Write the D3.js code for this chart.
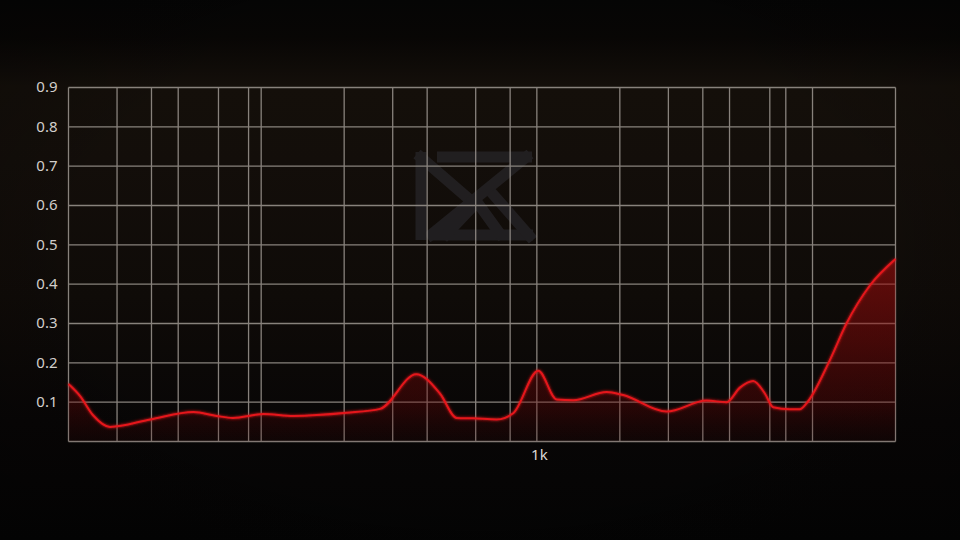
<!DOCTYPE html>
<html>
<head>
<meta charset="utf-8">
<script src="https://cdn.jsdelivr.net/npm/d3@7"></script>
<style>
  html, body { margin: 0; padding: 0; background: #050505; }
  svg { display: block; }
</style>
</head>
<body>
<svg id="chart" width="960" height="540"></svg>
<script>
// ---- data ----
const freqs  = [20, 22, 24.6, 28.3, 39.6, 56.8, 69, 79, 102, 131, 204, 270, 365, 445, 512, 588, 715, 821, 1012, 1180, 1356, 1792, 2057, 2956, 4130, 4878, 5452, 6092, 6718, 7198, 8276, 8996, 9510, 11560, 13280, 16120, 20000];
const values = [0.146, 0.116, 0.066, 0.037, 0.056, 0.075, 0.065, 0.060, 0.070, 0.065, 0.073, 0.083, 0.171, 0.122, 0.060, 0.059, 0.056, 0.072, 0.180, 0.107, 0.105, 0.126, 0.118, 0.076, 0.104, 0.100, 0.137, 0.154, 0.122, 0.087, 0.082, 0.082, 0.097, 0.207, 0.300, 0.396, 0.464];
const gridFreqs = [20, 30, 40, 50, 70, 90, 100, 200, 300, 400, 600, 800, 1000, 2000, 3000, 4000, 5000, 7000, 8000, 10000, 20000];
const xTickValues = [1000];
const xTickLabels = ["1k"];
const yTicks = [0, 0.1, 0.2, 0.3, 0.4, 0.5, 0.6, 0.7, 0.8, 0.9];

const svg = d3.select("#chart");
const W = 960, H = 540;
const m = { left: 68.5, right: 895.5, top: 87.5, bottom: 441.5 };

const x = d3.scaleLog().domain([20, 20000]).range([m.left, m.right]);
const y = d3.scaleLinear().domain([0, 0.9]).range([m.bottom, m.top]);

const defs = svg.append("defs");
const bg = defs.append("linearGradient").attr("id", "bg").attr("x1", 0).attr("y1", 0).attr("x2", 0).attr("y2", 1);
[[0, "#050505"], [0.07, "#080605"], [0.16, "#140f0a"], [0.3, "#130e0a"], [0.55, "#0f0b08"], [0.78, "#080606"], [1, "#040404"]]
  .forEach(([o, c]) => bg.append("stop").attr("offset", o).attr("stop-color", c));
svg.append("rect").attr("width", W).attr("height", H).attr("fill", "url(#bg)");

// side vignette
const vg = defs.append("radialGradient").attr("id", "vig").attr("cx", 0.5).attr("cy", 0.45).attr("r", 0.75);
vg.append("stop").attr("offset", 0.55).attr("stop-color", "#000").attr("stop-opacity", 0);
vg.append("stop").attr("offset", 1).attr("stop-color", "#000").attr("stop-opacity", 0.35);
svg.append("rect").attr("width", W).attr("height", H).attr("fill", "url(#vig)");

// faint watermark logo
const logo = svg.append("g").attr("transform", "translate(415,152)").attr("opacity", 0.45)
  .attr("fill", "none").attr("stroke", "#34343c").attr("stroke-width", 11);
const logoPaths = [
  "M6,0 L6,88", "M22,5 L117,5", "M2,2 L62,54", "M115,2 L12,86", "M14,83 L118,83",
  "M28,86 L62,50 L88,86", "M76,40 L118,88"
];
logo.selectAll("path").data(logoPaths).join("path").attr("d", d => d);

// grid
const gridColor = "#958f89";
const grid = svg.append("g").attr("stroke", gridColor).attr("stroke-width", 1.3).attr("opacity", 0.9);
grid.selectAll("line.h").data(yTicks).join("line").attr("class", "h")
  .attr("x1", m.left).attr("x2", m.right).attr("y1", d => y(d)).attr("y2", d => y(d));
grid.selectAll("line.v").data(gridFreqs).join("line").attr("class", "v")
  .attr("x1", d => x(d)).attr("x2", d => x(d)).attr("y1", m.top).attr("y2", m.bottom);

// area + line
const fillG = defs.append("linearGradient").attr("id", "fillG")
  .attr("gradientUnits", "userSpaceOnUse").attr("x1", 0).attr("y1", y(0.47)).attr("x2", 0).attr("y2", m.bottom);
[[0, "#a00c0c", 0.6], [0.45, "#8a0808", 0.45], [0.8, "#6a0505", 0.34], [1, "#400404", 0.15]]
  .forEach(([o, c, a]) => fillG.append("stop").attr("offset", o).attr("stop-color", c).attr("stop-opacity", a));

const pts = freqs.map((f, i) => [f, values[i]]);
const area = d3.area().x(d => x(d[0])).y0(m.bottom).y1(d => y(d[1])).curve(d3.curveMonotoneX);
const line = d3.line().x(d => x(d[0])).y(d => y(d[1])).curve(d3.curveMonotoneX);

svg.append("path").datum(pts).attr("d", area).attr("fill", "url(#fillG)");

const glow = defs.append("filter").attr("id", "glow").attr("x", "-5%").attr("y", "-20%").attr("width", "110%").attr("height", "140%");
glow.append("feGaussianBlur").attr("stdDeviation", 1.5).attr("result", "b");
const mg = glow.append("feMerge");
mg.append("feMergeNode").attr("in", "b");
mg.append("feMergeNode").attr("in", "SourceGraphic");

svg.append("path").datum(pts).attr("d", line).attr("fill", "none")
  .attr("stroke", "#e5161b").attr("stroke-width", 2).attr("filter", "url(#glow)");

// axes labels
const font = "'Noto Sans', 'Open Sans', sans-serif";
const yAxis = d3.axisLeft(y).tickValues(yTicks.filter(d => d > 0)).tickSize(0).tickPadding(11).tickFormat(d3.format(".1f"));
const ya = svg.append("g").attr("transform", `translate(${m.left},0)`).call(yAxis);
ya.select(".domain").remove();
ya.selectAll("text").attr("fill", "#d2cecb").attr("font-family", font).attr("font-size", 15)
  .attr("dy", "0.28em");

const xAxis = d3.axisBottom(x).tickValues(xTickValues).tickSize(0).tickPadding(8)
  .tickFormat((d, i) => xTickLabels[i]);
const xa = svg.append("g").attr("transform", `translate(2,${m.bottom})`).call(xAxis);
xa.select(".domain").remove();
xa.selectAll("text").attr("fill", "#dcd8d5").attr("font-family", font).attr("font-size", 15);
</script>
</body>
</html>
